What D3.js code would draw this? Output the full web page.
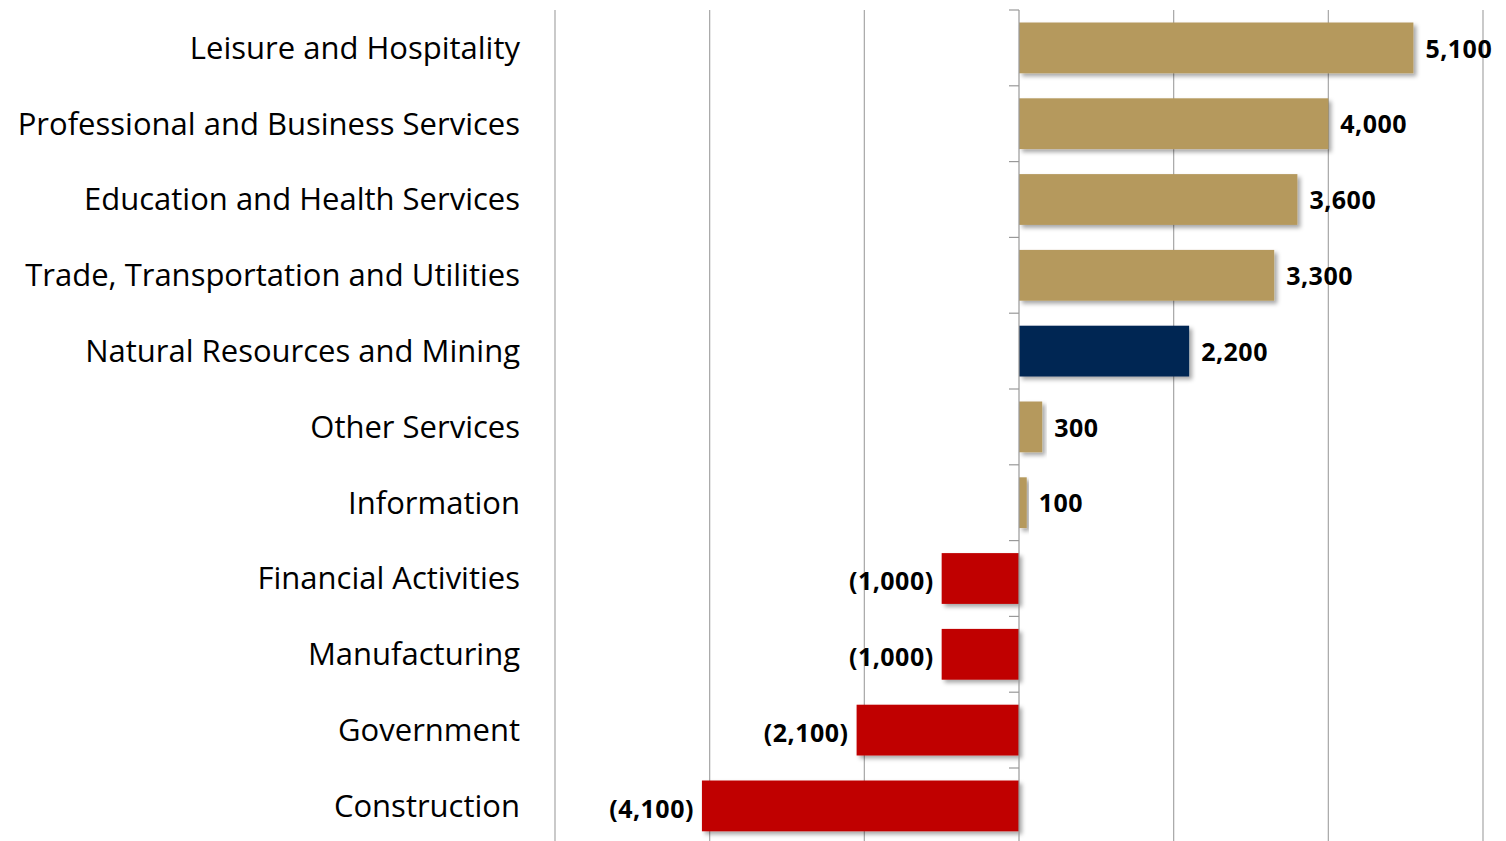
<!DOCTYPE html>
<html>
<head>
<meta charset="utf-8">
<script src="https://cdn.jsdelivr.net/npm/d3@7"></script>
<style>
  body { margin: 0; background: #fff; }
  svg { display: block; }
</style>
</head>
<body>
<div id="chart"></div>
<script>
var categories = ["Leisure and Hospitality", "Professional and Business Services",
  "Education and Health Services", "Trade, Transportation and Utilities",
  "Natural Resources and Mining", "Other Services", "Information",
  "Financial Activities", "Manufacturing", "Government", "Construction"];
var values = [5100, 4000, 3600, 3300, 2200, 300, 100, -1000, -1000, -2100, -4100];
var highlight = "Natural Resources and Mining";
var gridTicks = [-6000, -4000, -2000, 0, 2000, 4000, 6000];

var width = 1506, height = 841;
var margin = {top: 10, right: 23, bottom: 0, left: 555};

var svg = d3.select("#chart").append("svg")
    .attr("width", width)
    .attr("height", height);

var defs = svg.append("defs");
var f = defs.append("filter").attr("id", "shadow")
    .attr("x", "-10%").attr("y", "-20%").attr("width", "130%").attr("height", "150%");
f.append("feDropShadow").attr("dx", 3).attr("dy", 3).attr("stdDeviation", 2)
    .attr("flood-color", "#000").attr("flood-opacity", 0.35);

var x = d3.scaleLinear().domain([-6000, 6000]).range([margin.left, width - margin.right]);
var y = d3.scaleBand().domain(categories).range([margin.top, margin.top + 75.8 * 11]).paddingInner(0.33).paddingOuter(0.165);

// vertical gridlines
svg.append("g").selectAll("line")
    .data(gridTicks.filter(function(d) { return d !== 0; }))
    .enter().append("line")
    .attr("x1", function(d) { return x(d); })
    .attr("x2", function(d) { return x(d); })
    .attr("y1", margin.top)
    .attr("y2", height)
    .attr("stroke", "#a6a6a6")
    .attr("stroke-width", 1.2);

// bars
svg.append("g").selectAll("rect")
    .data(categories)
    .enter().append("rect")
    .attr("x", function(d, i) { return Math.min(x(0), x(values[i])); })
    .attr("width", function(d, i) { return Math.abs(x(values[i]) - x(0)); })
    .attr("y", function(d) { return y(d); })
    .attr("height", y.bandwidth())
    .attr("filter", "url(#shadow)")
    .attr("fill", function(d, i) {
        if (d === highlight) return "#062852";
        return values[i] < 0 ? "#c00000" : "#b5995d";
    });

// zero axis with ticks at band boundaries
var step = y.step();
var axis = svg.append("g");
axis.append("line")
    .attr("x1", x(0)).attr("x2", x(0))
    .attr("y1", margin.top).attr("y2", height)
    .attr("stroke", "#999").attr("stroke-width", 1.2);
axis.selectAll(".tk")
    .data(d3.range(categories.length + 1))
    .enter().append("line")
    .attr("class", "tk")
    .attr("x1", x(0) - 10).attr("x2", x(0))
    .attr("y1", function(i) { return margin.top + i * step; })
    .attr("y2", function(i) { return margin.top + i * step; })
    .attr("stroke", "#999").attr("stroke-width", 1.2);

// category labels
svg.append("g").selectAll("text")
    .data(categories)
    .enter().append("text")
    .attr("x", 520)
    .attr("y", function(d) { return y(d) + y.bandwidth() / 2; })
    .attr("dy", "0.35em")
    .attr("text-anchor", "end")
    .style("font-family", "'Open Sans', sans-serif")
    .style("font-size", "31px")
    .attr("fill", "#000")
    .text(function(d) { return d; });

// value labels
var fmt = d3.format(",");
svg.append("g").selectAll("text")
    .data(categories)
    .enter().append("text")
    .attr("x", function(d, i) { return values[i] < 0 ? x(values[i]) - 8 : x(values[i]) + 12; })
    .attr("y", function(d, i) { return y(d) + y.bandwidth() / 2 + (values[i] < 0 ? 3 : 1); })
    .attr("dy", "0.35em")
    .attr("text-anchor", function(d, i) { return values[i] < 0 ? "end" : "start"; })
    .style("font-family", "'Open Sans', sans-serif")
    .style("font-size", "25px")
    .style("font-weight", "bold")
    .style("letter-spacing", "0.5px")
    .attr("fill", "#000")
    .text(function(d, i) { return values[i] < 0 ? "(" + fmt(-values[i]) + ")" : fmt(values[i]); });
</script>
</body>
</html>
